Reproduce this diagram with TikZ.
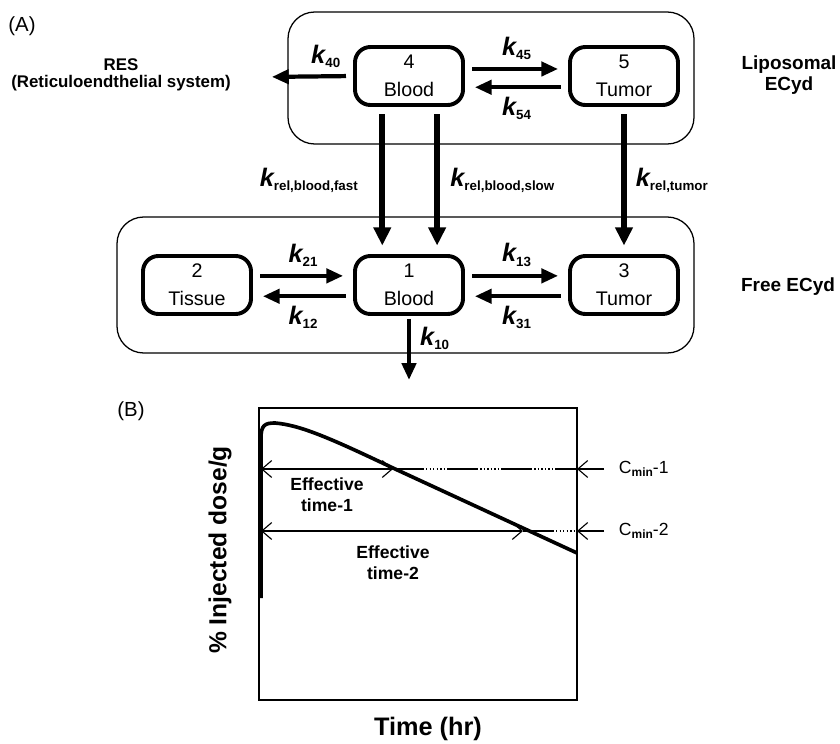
\documentclass[tikz,border=0pt]{standalone}
\usepackage{fontspec}
\setmainfont{Liberation Sans}
\usetikzlibrary{arrows.meta,positioning}

\newcommand{\krate}[1]{{\fontsize{18}{18}\selectfont\bfseries\itshape k}\raisebox{-3pt}{\fontsize{9.5}{9.5}\selectfont\bfseries #1}}
\newcommand{\cmin}[1]{C\raisebox{-2.5pt}{\fontsize{8.5}{8.5}\selectfont\bfseries min}-#1}

\begin{document}
\begin{tikzpicture}[x=0.025cm, y=-0.025cm,
  comp/.style = {draw, line width=2.8pt, rounded corners=11pt, minimum width=2.7cm, minimum height=1.45cm, align=center, font=\fontsize{14}{20}\selectfont},
  pool/.style = {draw, line width=0.9pt, rounded corners=19pt},
  flow/.style = {line width=3pt, -{Triangle[length=12pt,width=10pt]}, shorten <=5pt, shorten >=7pt},
  rel/.style = {line width=4.2pt, -{Triangle[length=13pt,width=12pt]}, shorten <=5pt, shorten >=6pt},
  lab/.style = {font=\bfseries\fontsize{12}{12}\selectfont, align=center},
  tag/.style = {font=\fontsize{14.5}{14.5}\selectfont},
  span/.style = {line width=0.8pt, {Straight Barb[length=7pt,width=12pt]}-{Straight Barb[length=7pt,width=12pt]}},
  level/.style = {line width=0.8pt, dash pattern=on 22pt off 1.5pt on 1pt off 1.5pt on 1pt off 1.5pt on 1pt off 1.5pt on 1pt off 1.5pt on 1pt off 1.5pt on 1pt off 1.5pt},
  pointer/.style = {line width=0.8pt, -{Straight Barb[length=7pt,width=12pt]}}]
\useasboundingbox (0,0) rectangle (840,743);

% (A) compartment model
\node[tag] (tagA) at (22,26) {(A)};
\draw[pool] (288,12) rectangle (694,144);
\draw[pool] (117,217) rectangle (694,353);

\node[comp] (b1) at (409,285) {1\\Blood};
\node[comp, left=2.5cm of b1] (t2) {2\\Tissue};
\node[comp, right=2.575cm of b1] (t3) {3\\Tumor};
\node[comp, above=3.675cm of b1] (b4) {4\\Blood};
\node[comp, right=2.575cm of b4] (t5) {5\\Tumor};

\node[lab] (res) at (121,75) {RES\\(Reticuloendthelial system)};
\coordinate (resin) at (262,77);
\coordinate (sink) at (409,380);
\node[lab, font=\bfseries\fontsize{13.5}{14.5}\selectfont] (lipo) at (789,75) {Liposomal\\ECyd};
\node[lab, font=\bfseries\fontsize{13.5}{14.5}\selectfont] (free) at (788,287) {Free ECyd};

\draw[flow] (b4.west) -- (resin) node[pos=0.3, above=1pt] {\krate{40}};
\draw[flow] ([yshift=5pt]b4.east) -- ([yshift=5pt]t5.west) node[midway, above=2pt] {\krate{45}};
\draw[flow] ([yshift=-8pt]t5.west) -- ([yshift=-8pt]b4.east) node[midway, below=2pt] {\krate{54}};
\draw[flow] ([yshift=6.5pt]t2.east) -- ([yshift=6.5pt]b1.west) node[midway, above=2pt] {\krate{21}};
\draw[flow] ([yshift=-8pt]b1.west) -- ([yshift=-8pt]t2.east) node[midway, below=2pt] {\krate{12}};
\draw[flow] ([yshift=6.5pt]b1.east) -- ([yshift=6.5pt]t3.west) node[midway, above=2pt] {\krate{13}};
\draw[flow] ([yshift=-8pt]t3.west) -- ([yshift=-8pt]b1.east) node[midway, below=2pt] {\krate{31}};
\draw[flow, line width=3.3pt, shorten <=2pt, shorten >=0pt] (b1.south) -- (sink) node[pos=0.35, right=3pt] {\krate{10}};

\draw[rel] ([xshift=-19pt]b4.south) -- ([xshift=-19pt]b1.north) node[midway, left=12pt] {\krate{rel,blood,fast}};
\draw[rel] ([xshift=20pt]b4.south) -- ([xshift=20pt]b1.north) node[midway, right=4pt] {\krate{rel,blood,slow}};
\draw[rel] (t5.south) -- (t3.north) node[midway, right=3pt] {\krate{rel,tumor}};

% (B) concentration-time curve
\node[tag] (tagB) at (131,411) {(B)};
\draw[line width=1.2pt] (259,408) rectangle (577,700);
\draw[line width=2.6pt, line join=round] (261,598) -- (261,438) .. controls (261,425) and (265,423) .. (275,423) .. controls (300,425) and (330,438) .. (393,468) -- (577,553);

\coordinate (e1a) at (261,469);
\coordinate (e1b) at (393,469);
\coordinate (e2a) at (261,531);
\coordinate (e2b) at (523,531);
\coordinate (r1) at (577,469);
\coordinate (r2) at (577,531);
\coordinate (p1) at (604,469);
\coordinate (p2) at (604,531);

\draw[span] (e1a) -- (e1b);
\draw[span] (e2a) -- (e2b);
\draw[level] (e1b) -- (r1);
\draw[level] (e2b) -- (r2);
\draw[pointer] (p1) -- (r1);
\draw[pointer] (p2) -- (r2);
\node[anchor=west, font=\fontsize{12.5}{12.5}\selectfont] (c1) at (614,469) {\cmin{1}};
\node[anchor=west, font=\fontsize{12.5}{12.5}\selectfont] (c2) at (614,531) {\cmin{2}};

\node[lab, font=\bfseries\fontsize{12.5}{15}\selectfont] (eff1) at (327,495) {Effective\\time-1};
\node[lab, font=\bfseries\fontsize{12.5}{15}\selectfont] (eff2) at (393,563) {Effective\\time-2};

\node[rotate=90, font=\bfseries\fontsize{17.5}{17.5}\selectfont] (ylab) at (220,550) {\% Injected dose/g};
\node[font=\bfseries\fontsize{18}{18}\selectfont] (xlab) at (428,729) {Time (hr)};
\end{tikzpicture}
\end{document}
